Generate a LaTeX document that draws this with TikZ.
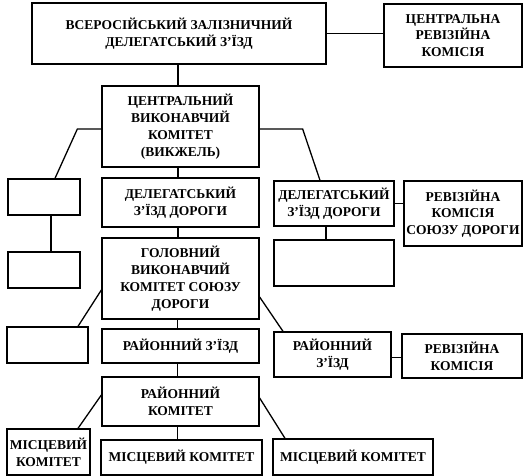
\documentclass[tikz,border=0pt]{standalone}
\usepackage{fontspec}
\setmainfont{Liberation Serif}
\begin{document}
\begin{tikzpicture}[x=1pt,y=-1pt,
  bx/.style={draw, line width=1.3pt, inner sep=0pt, align=center,
    font=\fontsize{13.5}{16.8}\selectfont\bfseries},
  ln/.style={line width=1.3pt}]
\useasboundingbox (0,0) rectangle (527,476);
% boxes
\node[bx, minimum width=294pt, minimum height=61pt] (top) at (179,33.5) {ВСЕРОСІЙСЬКИЙ ЗАЛІЗНИЧНИЙ\\ДЕЛЕГАТСЬКИЙ З’ЇЗД};
\node[bx, minimum width=138pt, minimum height=63pt] (crk) at (453,35.5) {ЦЕНТРАЛЬНА\\РЕВІЗІЙНА\\КОМІСІЯ};
\node[bx, minimum width=157pt, minimum height=81pt] (cvk) at (180.5,126.5) {ЦЕНТРАЛЬНИЙ\\ВИКОНАВЧИЙ\\КОМІТЕТ\\(ВИКЖЕЛЬ)};
\node[bx, minimum width=72pt, minimum height=36pt] (lb1) at (44,197) {};
\node[bx, minimum width=72pt, minimum height=36pt] (lb2) at (44,270) {};
\node[bx, minimum width=157pt, minimum height=49pt] (dzd) at (180.5,202.5) {ДЕЛЕГАТСЬКИЙ\\З’ЇЗД ДОРОГИ};
\node[bx, minimum width=120pt, minimum height=45pt] (rdzd) at (334,203.5) {ДЕЛЕГАТСЬКИЙ\\З’ЇЗД ДОРОГИ};
\node[bx, minimum width=118pt, minimum height=65pt] (rksd) at (463,213.5) {РЕВІЗІЙНА\\КОМІСІЯ\\СОЮЗУ ДОРОГИ};
\node[bx, minimum width=120pt, minimum height=46pt] (remp) at (334,263) {};
\node[bx, minimum width=157pt, minimum height=81pt] (gvk) at (180.5,278.5) {ГОЛОВНИЙ\\ВИКОНАВЧИЙ\\КОМІТЕТ СОЮЗУ\\ДОРОГИ};
\node[bx, minimum width=81pt, minimum height=36pt] (lb3) at (47.5,345) {};
\node[bx, minimum width=157pt, minimum height=34pt] (rz) at (180.5,346) {РАЙОННИЙ З’ЇЗД};
\node[bx, minimum width=117pt, minimum height=45pt] (rrz) at (332.5,354.5) {РАЙОННИЙ\\З’ЇЗД};
\node[bx, minimum width=120pt, minimum height=44pt] (rk) at (462,356) {РЕВІЗІЙНА\\КОМІСІЯ};
\node[bx, minimum width=157pt, minimum height=49pt] (rkom) at (180.5,401.5) {РАЙОННИЙ\\КОМІТЕТ};
\node[bx, minimum width=83pt, minimum height=46pt] (m1) at (48.5,452) {МІСЦЕВИЙ\\КОМІТЕТ};
\node[bx, minimum width=161pt, minimum height=35pt] (m2) at (181.5,457.5) {МІСЦЕВИЙ КОМІТЕТ};
\node[bx, minimum width=160pt, minimum height=36pt] (m3) at (353,457) {МІСЦЕВИЙ КОМІТЕТ};
% connectors
\draw[ln] ([xshift=-1pt]top.south) -- ([xshift=-1pt]top.south |- cvk.north);
\draw[ln] (top.east) -- (top.east -| crk.west);
\draw[ln] ([yshift=-2.5pt]cvk.west) -- ++(-24,0) -- ([xshift=11pt]lb1.north);
\draw[ln] ([yshift=-2.5pt]cvk.east) -- ++(43,0) -- ([xshift=-14pt]rdzd.north);
\draw[ln] ([xshift=-2.5pt]cvk.south) -- ([xshift=-2.5pt]dzd.north);
\draw[ln] ([xshift=-2.5pt]dzd.south) -- ([xshift=-2.5pt]gvk.north);
\draw[ln] ([xshift=7pt]lb1.south) -- ([xshift=7pt]lb2.north);
\draw[ln] (rdzd.east) -- (rdzd.east -| rksd.west);
\draw[ln] ([xshift=-8pt]rdzd.south) -- ([xshift=-8pt]remp.north);
\draw[ln] ([yshift=-11.5pt]gvk.west) -- ([xshift=30.5pt]lb3.north);
\draw[ln] ([yshift=-18.5pt]gvk.east) -- ([xshift=-49.5pt]rrz.north);
\draw[ln] ([xshift=-3pt]gvk.south) -- ([xshift=-3pt]rz.north);
\draw[ln] ([xshift=-3pt]rz.south) -- ([xshift=-3pt]rkom.north);
\draw[ln] ([yshift=-3pt]rrz.east) -- ([yshift=-3pt]rrz.east -| rk.west);
\draw[ln] ([yshift=6.5pt]rkom.west) -- ([xshift=29.5pt]m1.north);
\draw[ln] ([yshift=3.5pt]rkom.east) -- ([xshift=-68pt]m3.north);
\draw[ln] ([xshift=-3pt]rkom.south) -- ([xshift=-4pt]m2.north);
\end{tikzpicture}
\end{document}
